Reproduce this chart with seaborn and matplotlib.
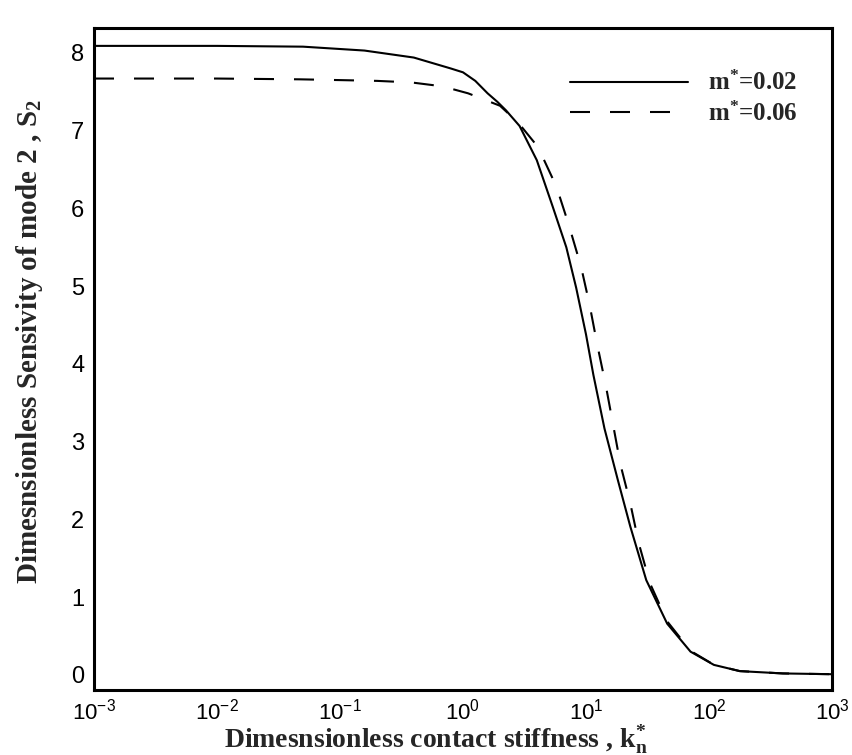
import numpy as np
import pandas as pd
import matplotlib
matplotlib.use("Agg")
import matplotlib.pyplot as plt
import seaborn as sns
from matplotlib.ticker import FixedLocator, MultipleLocator, LogFormatterMathtext, NullFormatter

# Sensitivity of mode 2 versus contact stiffness, two mass ratios
series_labels = ["m*=0.02", "m*=0.06"]
legend_labels = [r"$\mathdefault{m^{*}}$=0.02", r"$\mathdefault{m^{*}}$=0.06"]
x_decades = [1e-3, 1e-2, 1e-1, 1e0, 1e1, 1e2, 1e3]

k_m002 = [1e-3, 1e-2, 0.050, 0.158, 0.398, 0.794, 1.0, 1.259, 1.585, 1.905,
          2.239, 2.884, 3.981, 5.370, 6.918, 8.318, 10.0, 11.48, 14.13, 18.20,
          22.91, 30.90, 45.71, 70.79, 109.6, 177.8, 398.1, 1000.0]
s_m002 = [8.09, 8.09, 8.08, 8.03, 7.94, 7.80, 7.75, 7.64, 7.48, 7.37,
          7.26, 7.06, 6.62, 6.02, 5.50, 4.98, 4.38, 3.86, 3.17, 2.50,
          1.91, 1.22, 0.66, 0.30, 0.13, 0.05, 0.02, 0.01]

k_m006 = [1e-3, 1e-2, 0.047, 0.10, 0.20, 0.38, 0.68, 1.10, 2.0, 2.82,
          4.07, 5.75, 7.24, 9.12, 10.7, 12.3, 14.5, 16.6, 19.1, 22.9,
          26.9, 33.1, 45.7, 70.8, 110.0, 178.0, 398.0, 1000.0]
s_m006 = [7.67, 7.67, 7.66, 7.65, 7.64, 7.62, 7.57, 7.48, 7.32, 7.10,
          6.79, 6.28, 5.79, 5.25, 4.76, 4.26, 3.72, 3.22, 2.70, 2.21,
          1.69, 1.18, 0.69, 0.31, 0.13, 0.05, 0.02, 0.01]

df = pd.concat([
    pd.DataFrame({"k": k_m002, "S": s_m002, "series": series_labels[0]}),
    pd.DataFrame({"k": k_m006, "S": s_m006, "series": series_labels[1]}),
], ignore_index=True)

sns.set_style("white")
plt.rcParams["font.family"] = ["Liberation Sans", "DejaVu Sans"]
plt.rcParams["mathtext.fontset"] = "custom"
plt.rcParams["mathtext.rm"] = "Liberation Sans"

fig = plt.figure(figsize=(8.52, 7.55), dpi=100)
ax = fig.add_axes([94 / 852, 1 - 690 / 755, 738 / 852, 662 / 755])

sns.lineplot(data=df, x="k", y="S", style="series", color="black",
             dashes={series_labels[0]: "", series_labels[1]: (9.6, 9.6)},
             linewidth=1.5, sort=False, estimator=None, ax=ax)

ax.set_xscale("log")
ax.set_xlim(x_decades[0], x_decades[-1])
ax.set_ylim(-0.193, 8.32)

# decade ticks only inside the visible range, minor ticks at 2..9 of each decade
minor_x = [d * m for d in x_decades[:-1] for m in range(2, 10)]
ax.xaxis.set_major_locator(FixedLocator(x_decades))
ax.xaxis.set_minor_locator(FixedLocator(minor_x))
ax.xaxis.set_major_formatter(LogFormatterMathtext())
ax.xaxis.set_minor_formatter(NullFormatter())
ax.yaxis.set_major_locator(MultipleLocator(1))
ax.yaxis.set_minor_locator(MultipleLocator(0.2))

ax.tick_params(which="major", direction="in", length=11.5, width=1.5,
               labelsize=16, pad=6, colors="black", top=False, right=False)
ax.tick_params(axis="y", which="major", labelsize=17, pad=7)
ax.tick_params(which="minor", direction="in", length=6.5, width=0.8,
               top=False, right=False)
for sp in ax.spines.values():
    sp.set_linewidth(2.2)
    sp.set_color("black")

ax.set_xlabel(r"Dimesnsionless contact stiffness , $\mathdefault{k_{n}^{*}}$",
              family="Liberation Serif", weight="bold", size=20)
ax.set_ylabel(r"Dimesnsionless Sensivity of mode 2 , $\mathdefault{S_{2}}$",
              family="Liberation Serif", weight="bold", size=21)
ax.xaxis.set_label_coords(0.463, -0.0505)
ax.yaxis.set_label_coords(-0.066, 0.526)

if ax.get_legend() is not None:
    ax.get_legend().remove()
ax.legend(ax.get_lines()[:2], legend_labels, loc="upper left",
          bbox_to_anchor=(0.645, 0.935), frameon=False, borderpad=0,
          borderaxespad=0, handlelength=4.7, handletextpad=0.8,
          labelspacing=0.25,
          prop=dict(family="Liberation Serif", weight="bold", size=18))

fig.savefig("out.png", dpi=100)
